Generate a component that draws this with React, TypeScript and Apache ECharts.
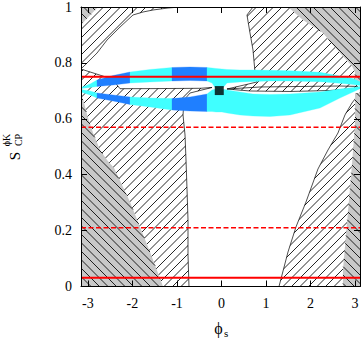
import React, { useEffect, useRef } from "react";
import * as echarts from "echarts";

// ---------- axes ----------
const X_MIN = -3.155;
const X_MAX = 3.11;
const xTicks = [-3, -2, -1, 0, 1, 2, 3];
const yTicks = [0, 0.2, 0.4, 0.6, 0.8, 1];

// ---------- open (un-hatched) region ----------
const openRegion: [number, number][] = [
  [-2.907, 0.8175], [-2.795, 0.8354], [-2.57, 0.8819], [-2.278, 0.9284], [-1.987, 0.9714],
  [-1.762, 0.9821], [-1.538, 0.9893], [-1.201, 0.9964], [-0.932, 1.0], [0.707, 1.0],
  [0.572, 0.9714], [0.64, 0.907], [0.707, 0.8462], [0.752, 0.7674], [0.797, 0.7317],
  [0.415, 0.7174], [0.123, 0.7066], [0.64, 0.6995], [1.538, 0.6977], [2.435, 0.7013],
  [2.884, 0.7066], [3.12, 0.7102], [3.12, 0.6959], [2.929, 0.6565], [2.772, 0.6136],
  [2.615, 0.5492], [2.391, 0.4884], [2.166, 0.4204], [1.897, 0.3023], [1.672, 0.2129],
  [1.493, 0.1234], [1.335, 0.0268], [1.291, 0], [-0.73, 0], [-0.752, 0.1127],
  [-0.752, 0.2379], [-0.774, 0.3453], [-0.797, 0.4526], [-0.819, 0.542], [-0.864, 0.6136],
  [-0.842, 0.6673], [-0.707, 0.6923], [-0.483, 0.7013], [-0.213, 0.712], [-0.483, 0.7091],
  [-1.605, 0.708], [-2.278, 0.7077], [-2.458, 0.7424], [-3.16, 0.7782], [-3.086, 0.7889],
  [-2.997, 0.8032],
];

// thin hatched wedge outline (right side, upper edge)
const wedgeTopOutline: [number, number][] = [
  [0.123, 0.7066], [0.864, 0.7138], [1.762, 0.7156], [2.66, 0.7174], [3.064, 0.7156],
];

// ---------- excluded (grey) regions ----------
const greyTopLeft: [number, number][] = [[-3.16, 1.0], [-2.772, 1.0], [-3.16, 0.9356]];
const greyBottomLeft: [number, number][] = [
  [-3.16, 0.6923], [-3.086, 0.6565], [-2.997, 0.6029], [-2.884, 0.5492], [-2.727, 0.4884],
  [-2.57, 0.4526], [-2.413, 0.424], [-2.233, 0.3631], [-2.054, 0.3023], [-1.829, 0.2129],
  [-1.605, 0.1234], [-1.313, 0], [-3.16, 0],
];
const greyTopRight: [number, number][] = [
  [1.493, 1.0], [1.829, 0.9535], [2.278, 0.907], [2.66, 0.8354], [2.929, 0.7889],
  [2.997, 0.7674], [2.997, 0.7245], [3.12, 0.7245], [3.12, 1.0],
];
const greyBottomRight: [number, number][] = [
  [2.997, 0.6923], [2.997, 0.5778], [2.929, 0.4347], [2.862, 0.3095], [2.795, 0.1843],
  [2.727, 0.059], [2.727, 0], [3.12, 0], [3.12, 0.6923],
];
const greyRegions = [greyTopLeft, greyBottomLeft, greyTopRight, greyBottomRight];

// ---------- allowed band (two arms) ----------
const bandX = [
  -3.16, -2.952, -2.795, -2.435, -2.054, -1.605, -1.111, -0.707, -0.325, -0.213, -0.123,
  0.011, 0.123, 0.415, 0.707, 1.089, 1.538, 2.211, 2.66, 2.952, 3.12,
];
const upperArmTop = [
  0.712, 0.7245, 0.7388, 0.7549, 0.7674, 0.7764, 0.7835, 0.7853, 0.7835, 0.7818, 0.78,
  0.7782, 0.7764, 0.7746, 0.7746, 0.7735, 0.7721, 0.7664, 0.7531, 0.7442, 0.7317,
];
const upperArmBottom = [
  0.7084, 0.712, 0.7156, 0.7209, 0.7281, 0.7317, 0.7352, 0.737, 0.7352, 0.7281, 0.7066,
  0.7066, 0.7281, 0.7317, 0.7335, 0.7352, 0.7352, 0.7327, 0.727, 0.7227, 0.7191,
];
const lowerArmTop = [
  0.7048, 0.6995, 0.6923, 0.6852, 0.678, 0.6744, 0.6726, 0.678, 0.6887, 0.703, 0.7066,
  0.7066, 0.703, 0.6959, 0.6887, 0.6869, 0.6887, 0.6959, 0.7066, 0.712, 0.7156,
];
const lowerArmBottom = [
  0.6959, 0.6852, 0.6744, 0.6637, 0.6512, 0.6422, 0.6315, 0.6279, 0.6261, 0.6261, 0.6243,
  0.6243, 0.6208, 0.6136, 0.61, 0.6082, 0.6136, 0.6386, 0.6744, 0.6959, 0.7084,
];
const bandBreaks = [-3.16, -2.795, -2.054, -1.111, -0.325, 3.12];
const bandInner = [false, true, false, true, false];

// ---------- reference lines & best fit ----------
const solidLevels = [0.7506, 0.0315];
const dashedLevels = [0.5696, 0.2104];
const bestFit: [number, number] = [-0.05, 0.701];

type P = number[];

function hatch(pts: P[], dir: number, spacing: number): P[][] {
  const f = (p: P) => p[0] + dir * p[1];
  let cmin = Infinity;
  let cmax = -Infinity;
  for (const p of pts) {
    cmin = Math.min(cmin, f(p));
    cmax = Math.max(cmax, f(p));
  }
  const segs: P[][] = [];
  for (let c = Math.ceil(cmin / spacing) * spacing; c <= cmax; c += spacing) {
    const xs: number[] = [];
    for (let i = 0; i < pts.length; i++) {
      const a = pts[i];
      const b = pts[(i + 1) % pts.length];
      const fa = f(a) - c;
      const fb = f(b) - c;
      if (fa < 0 !== fb < 0) {
        const t = fa / (fa - fb);
        xs.push(a[0] + t * (b[0] - a[0]));
      }
    }
    xs.sort((u, v) => u - v);
    for (let k = 0; k + 1 < xs.length; k += 2) {
      const x1 = xs[k];
      const x2 = xs[k + 1];
      segs.push([[x1, (c - x1) * dir], [x2, (c - x2) * dir]]);
    }
  }
  return segs;
}

const hatchLines = (segs: P[][], color: string, w: number) =>
  segs.map((s) => ({
    type: "line",
    shape: { x1: s[0][0], y1: s[0][1], x2: s[1][0], y2: s[1][1] },
    style: { stroke: color, lineWidth: w },
  }));

const FONT_X = "serif";
const FONT_Y = "Times New Roman";
const FONT_G = "'Liberation Serif'";

const label = (text: string, x: number, y: number, size: number, align: string, rotation = 0) => ({
  type: "text",
  x,
  y,
  rotation,
  z: 100,
  style: {
    text,
    font: `${size}px ${FONT_G}`,
    fill: "#000",
    align,
    verticalAlign: "middle",
    textAlign: align,
    textVerticalAlign: "middle",
  },
});

export default function App() {
  const ref = useRef<HTMLDivElement>(null);
  useEffect(() => {
    document.body.style.margin = "0";
    const chart = echarts.init(ref.current!, null, { renderer: "svg" });
    const CYAN = "#40ffff";
    const BLUE = "#1f7fff";
    const GREY = "#c8c8c8";
    const HATCH = 8.5;

    const armPolygon = (api: any, lo: number, hi: number, top: number[], bot: number[]) => {
      const idx: number[] = [];
      bandX.forEach((x, i) => {
        if (x >= lo - 1e-6 && x <= hi + 1e-6) idx.push(i);
      });
      const pts: P[] = [];
      idx.forEach((i) => pts.push(api.coord([bandX[i], top[i]])));
      idx.slice().reverse().forEach((i) => pts.push(api.coord([bandX[i], bot[i]])));
      return pts;
    };

    const frameAxis = (extra: any) => ({
      axisLine: { show: true, onZero: false, lineStyle: { color: "#000", width: 1 } },
      splitLine: { show: false },
      z: 10,
      ...extra,
    });

    const option: any = {
      animation: false,
      grid: { left: 81, right: 2, top: 7, bottom: 51.5, containLabel: false },
      xAxis: [
        frameAxis({
          type: "value", min: X_MIN, max: X_MAX, position: "bottom",
          axisTick: { show: true, inside: true, length: 6, customValues: xTicks, lineStyle: { color: "#000" } },
          axisLabel: {
            show: true, customValues: xTicks, color: "#000", fontFamily: FONT_X, fontSize: 14, margin: 10,
            formatter: (v: number) => String(v),
          },
        }),
        frameAxis({
          type: "value", min: X_MIN, max: X_MAX, position: "top",
          axisTick: { show: true, inside: true, length: 6, customValues: xTicks, lineStyle: { color: "#000" } },
          axisLabel: { show: false },
        }),
      ],
      yAxis: [
        frameAxis({
          type: "value", min: 0, max: 1, position: "left",
          axisTick: { show: true, inside: true, length: 6, customValues: yTicks, lineStyle: { color: "#000" } },
          axisLabel: {
            show: true, customValues: yTicks, color: "#000", fontFamily: FONT_Y, fontSize: 14, margin: 9,
            formatter: (v: number) => (v === 0 || v === 1 ? String(v) : v.toFixed(1)),
          },
        }),
        frameAxis({
          type: "value", min: 0, max: 1, position: "right",
          axisTick: { show: true, inside: true, length: 6, customValues: yTicks, lineStyle: { color: "#000" } },
          axisLabel: { show: false },
        }),
      ],
      graphic: [
        label("ϕ", 218.5, 328, 16, "center"),
        label("s", 224, 333, 11, "left"),
        label("S", 15, 156, 15, "center", Math.PI / 2),
        label("CP", 18.5, 140, 10, "center", Math.PI / 2),
        label("ϕK", 6.5, 140, 10, "center", Math.PI / 2),
      ],
      series: [
        {
          type: "custom", name: "hatched", clip: true, z: 1, data: [[0, 0]],
          renderItem: (params: any) => {
            const cs = params.coordSys;
            const rect: P[] = [
              [cs.x, cs.y], [cs.x + cs.width, cs.y], [cs.x + cs.width, cs.y + cs.height], [cs.x, cs.y + cs.height],
            ];
            return { type: "group", children: hatchLines(hatch(rect, 1, HATCH), "#000", 0.85) };
          },
        },
        {
          type: "custom", name: "open", clip: true, z: 2, data: [[0, 0]],
          renderItem: (_p: any, api: any) => {
            const pts = openRegion.map((p) => api.coord(p));
            const wedge = wedgeTopOutline.map((p) => api.coord(p));
            return {
              type: "group",
              children: [
                { type: "polygon", shape: { points: pts }, style: { fill: "#fff", stroke: "#000", lineWidth: 0.7 } },
                { type: "polyline", shape: { points: wedge }, style: { fill: "none", stroke: "#000", lineWidth: 0.7 } },
              ],
            };
          },
        },
        {
          type: "custom", name: "excluded", clip: true, z: 3,
          data: greyRegions.map(() => [0, 0]),
          renderItem: (params: any, api: any) => {
            const pts = greyRegions[params.dataIndex].map((p) => api.coord(p));
            return {
              type: "group",
              children: [
                { type: "polygon", shape: { points: pts }, style: { fill: GREY } },
                ...hatchLines(hatch(pts, -1, HATCH), "#000", 0.85),
              ],
            };
          },
        },
        {
          type: "custom", name: "band", clip: true, z: 4,
          data: bandInner.map(() => [0, 0]),
          renderItem: (params: any, api: any) => {
            const i = params.dataIndex;
            const lo = bandBreaks[i];
            const hi = bandBreaks[i + 1];
            const fill = bandInner[i] ? BLUE : CYAN;
            return {
              type: "group",
              children: [
                { type: "polygon", shape: { points: armPolygon(api, lo, hi, upperArmTop, upperArmBottom) }, style: { fill, stroke: fill, lineWidth: 0.3 } },
                { type: "polygon", shape: { points: armPolygon(api, lo, hi, lowerArmTop, lowerArmBottom) }, style: { fill, stroke: fill, lineWidth: 0.3 } },
              ],
            };
          },
        },
        ...solidLevels.map((y) => ({
          type: "line", z: 5, showSymbol: false, symbol: "none", silent: true,
          data: [[X_MIN, y], [X_MAX, y]],
          lineStyle: { color: "#ff0000", width: 2 },
        })),
        ...dashedLevels.map((y) => ({
          type: "line", z: 5, showSymbol: false, symbol: "none", silent: true,
          data: [[X_MIN, y], [X_MAX, y]],
          lineStyle: { color: "#ff0000", width: 1.5, type: [5, 2.5] },
        })),
        {
          type: "scatter", z: 6, symbol: "rect", symbolSize: 9,
          data: [bestFit], itemStyle: { color: "#000" },
        },
      ],
    };
    chart.setOption(option);
    return () => chart.dispose();
  }, []);
  return <div ref={ref} style={{ width: 362, height: 338 }} />;
}
